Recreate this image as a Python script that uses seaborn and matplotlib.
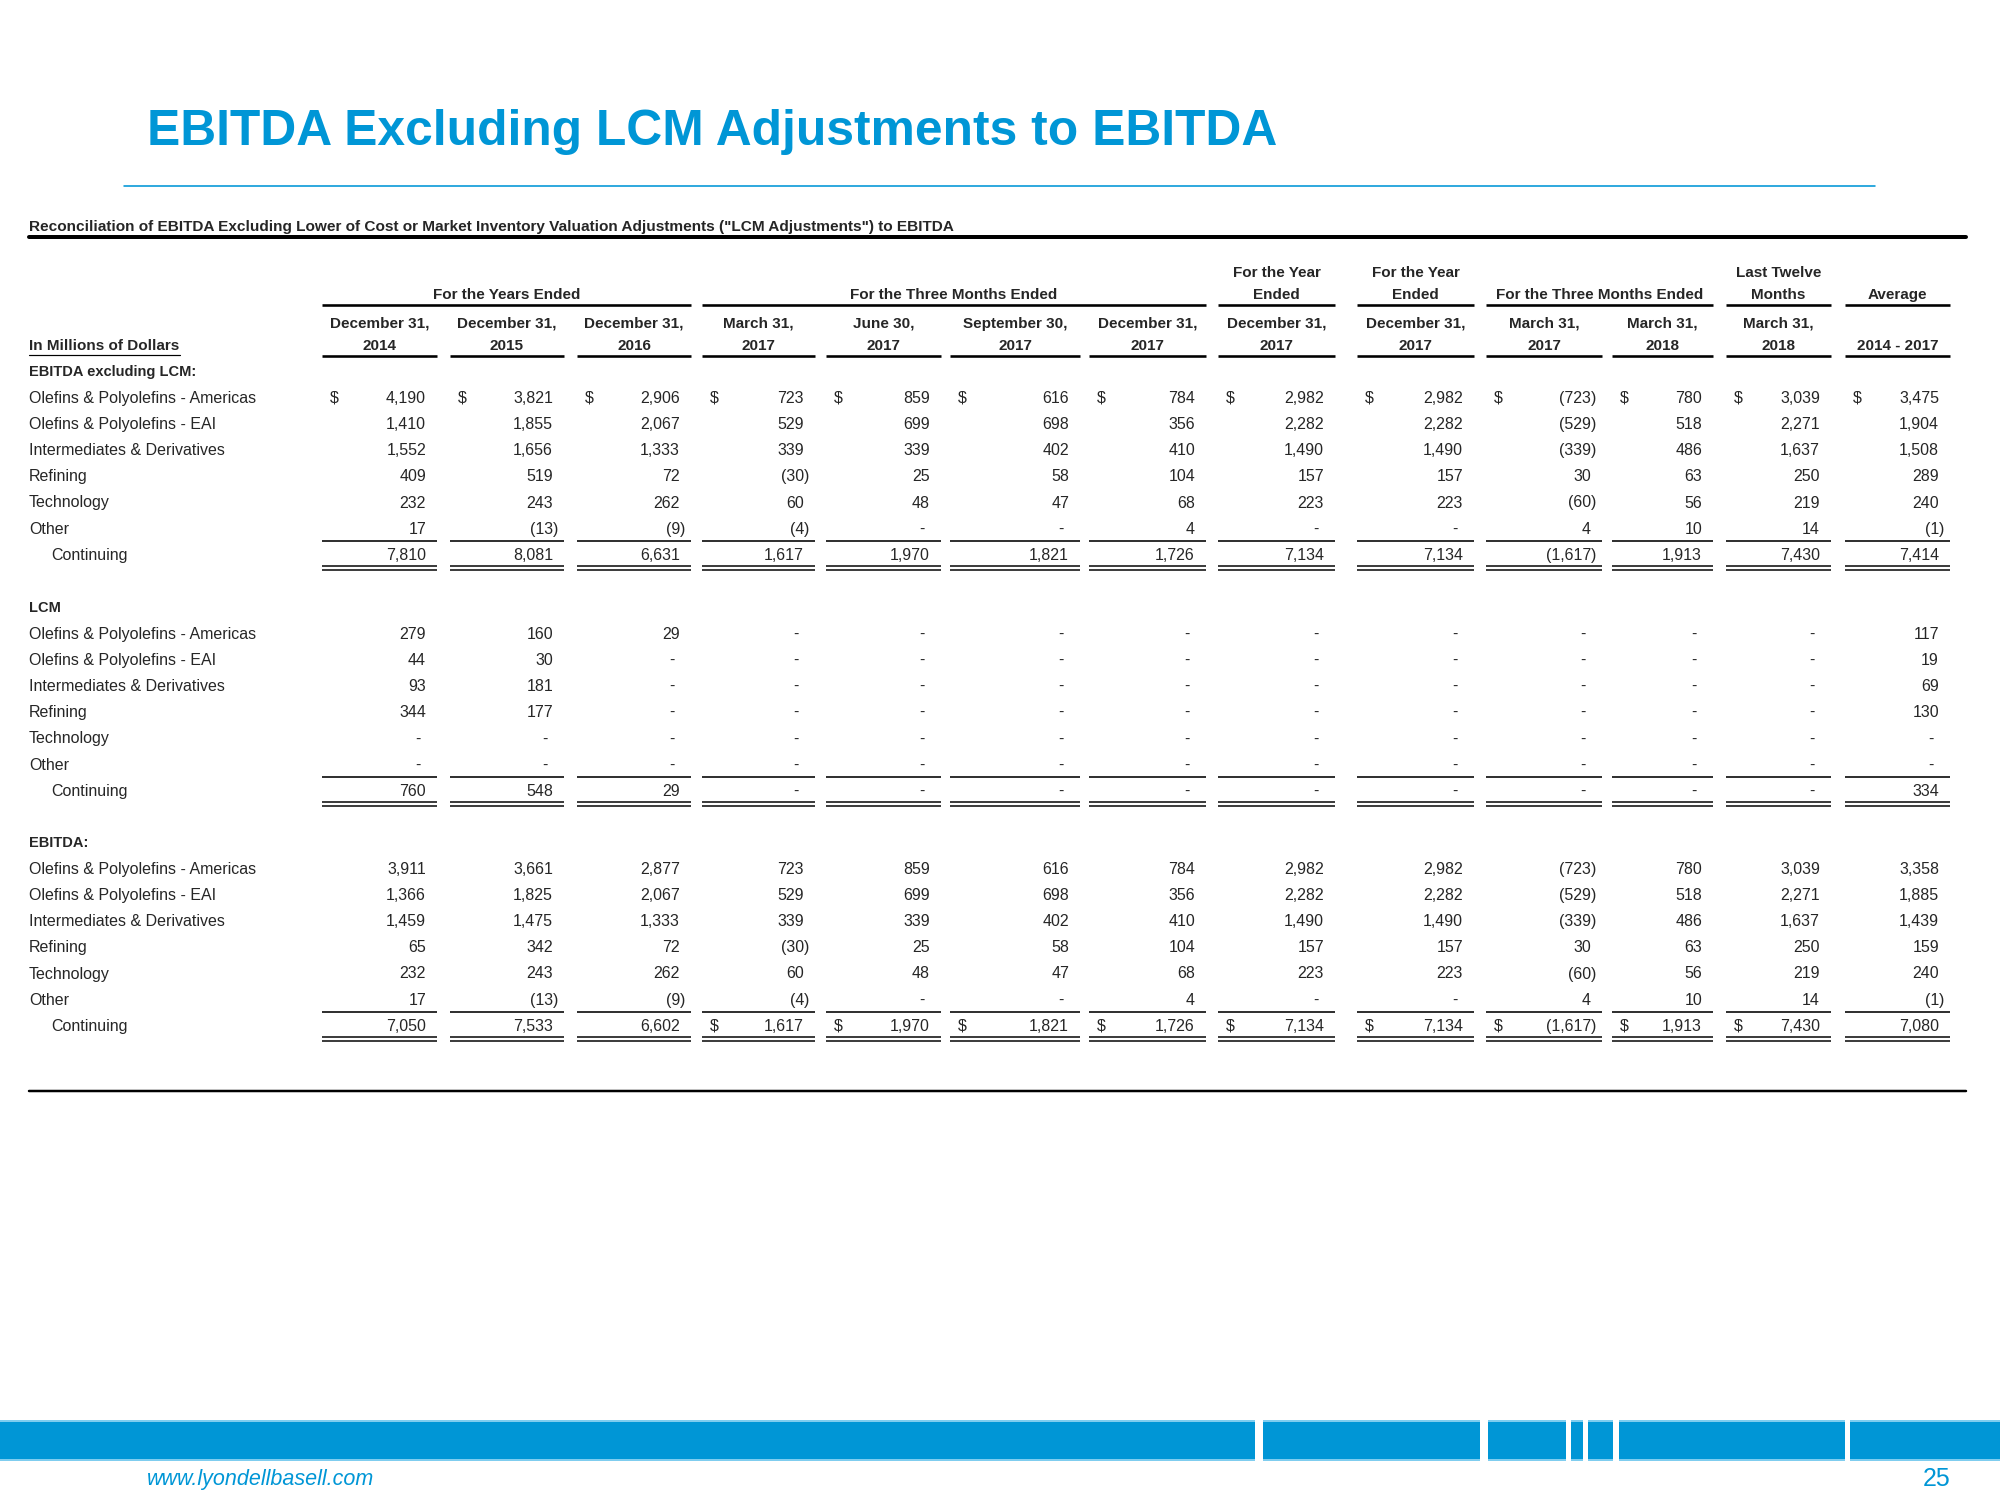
import matplotlib
matplotlib.use("Agg")
import matplotlib.pyplot as plt
import seaborn as sns
from matplotlib.patches import Rectangle

# ---- data -------------------------------------------------------------
title = "EBITDA Excluding LCM Adjustments to EBITDA"
subtitle = ('Reconciliation of EBITDA Excluding Lower of Cost or Market Inventory '
            'Valuation Adjustments ("LCM Adjustments") to EBITDA')

group_labels = ["For the Years Ended", "For the Three Months Ended", "For the Year\nEnded",
                "For the Year\nEnded", "For the Three Months Ended", "Last Twelve\nMonths", "Average"]
group_cols = [(0, 2), (3, 6), (7, 7), (8, 8), (9, 10), (11, 11), (12, 12)]

date_top = ["December 31,", "December 31,", "December 31,", "March 31,", "June 30,",
            "September 30,", "December 31,", "December 31,", "December 31,", "March 31,",
            "March 31,", "March 31,", ""]
date_bottom = ["2014", "2015", "2016", "2017", "2017", "2017", "2017", "2017", "2017",
               "2017", "2018", "2018", "2014 - 2017"]

row_labels = ["Olefins & Polyolefins - Americas", "Olefins & Polyolefins - EAI",
              "Intermediates & Derivatives", "Refining", "Technology", "Other", "Continuing"]
section_titles = ["EBITDA excluding LCM:", "LCM", "EBITDA:"]

N = None
ex_lcm_values = [
    [4190, 3821, 2906, 723, 859, 616, 784, 2982, 2982, -723, 780, 3039, 3475],
    [1410, 1855, 2067, 529, 699, 698, 356, 2282, 2282, -529, 518, 2271, 1904],
    [1552, 1656, 1333, 339, 339, 402, 410, 1490, 1490, -339, 486, 1637, 1508],
    [409, 519, 72, -30, 25, 58, 104, 157, 157, 30, 63, 250, 289],
    [232, 243, 262, 60, 48, 47, 68, 223, 223, -60, 56, 219, 240],
    [17, -13, -9, -4, N, N, 4, N, N, 4, 10, 14, -1],
    [7810, 8081, 6631, 1617, 1970, 1821, 1726, 7134, 7134, -1617, 1913, 7430, 7414],
]
lcm_values = [
    [279, 160, 29, N, N, N, N, N, N, N, N, N, 117],
    [44, 30, N, N, N, N, N, N, N, N, N, N, 19],
    [93, 181, N, N, N, N, N, N, N, N, N, N, 69],
    [344, 177, N, N, N, N, N, N, N, N, N, N, 130],
    [N] * 13,
    [N] * 13,
    [760, 548, 29, N, N, N, N, N, N, N, N, N, 334],
]
ebitda_values = [
    [3911, 3661, 2877, 723, 859, 616, 784, 2982, 2982, -723, 780, 3039, 3358],
    [1366, 1825, 2067, 529, 699, 698, 356, 2282, 2282, -529, 518, 2271, 1885],
    [1459, 1475, 1333, 339, 339, 402, 410, 1490, 1490, -339, 486, 1637, 1439],
    [65, 342, 72, -30, 25, 58, 104, 157, 157, 30, 63, 250, 159],
    [232, 243, 262, 60, 48, 47, 68, 223, 223, -60, 56, 219, 240],
    [17, -13, -9, -4, N, N, 4, N, N, 4, 10, 14, -1],
    [7050, 7533, 6602, 1617, 1970, 1821, 1726, 7134, 7134, -1617, 1913, 7430, 7080],
]

# which cells get a "$" (section, row) -> columns
dollar_cells = {(0, 0): range(13), (2, 6): range(3, 12)}

# ---- layout (pixel positions on the 2000x1500 slide) ------------------
BLUE = "#0096D6"
col_left = [322, 450, 577, 702, 826, 950, 1089, 1218, 1357, 1486, 1612, 1726, 1845]
col_right = [437, 564, 691, 815, 941, 1080, 1206, 1335, 1474, 1602, 1713, 1831, 1950]
section_y = [372, 608, 843]
row_step = 26.2
FS = 11.5

sns.set_theme(style="white")
plt.rcParams["font.family"] = ["Liberation Sans", "DejaVu Sans"]

fig = plt.figure(figsize=(20, 15), dpi=100)
ax = fig.add_axes([0, 0, 1, 1])
ax.set_xlim(0, 2000)
ax.set_ylim(1500, 0)
ax.axis("off")


def px(w):
    # line width in pixels -> points
    return w * 0.72


def seg_line(y, c, lw=1.6):
    ax.plot([col_left[c], col_right[c]], [y, y], color="black", lw=px(lw), solid_capstyle="butt")


# title block
ax.text(147, 132, title, fontsize=35.8, fontweight="bold", color=BLUE, va="center", ha="left")
ax.plot([124, 1875], [186, 186], color=BLUE, lw=px(1.6))
ax.text(29, 227, subtitle, fontsize=11.1, fontweight="bold", va="center", ha="left")
ax.plot([29, 1966], [237, 237], color="black", lw=px(4))

# column headers
for lab, (c0, c1) in zip(group_labels, group_cols):
    xc = (col_left[c0] + col_right[c1]) / 2
    lines = lab.split("\n")
    ys = [295] if len(lines) == 1 else [273, 295]
    for t, y in zip(lines, ys):
        ax.text(xc, y, t, fontsize=FS - 0.5, fontweight="bold", ha="center", va="center")
    ax.plot([col_left[c0], col_right[c1]], [305, 305], color="black", lw=px(2.6), solid_capstyle="butt")

for c in range(13):
    xc = (col_left[c] + col_right[c]) / 2
    if date_top[c]:
        ax.text(xc, 324, date_top[c], fontsize=FS - 0.5, fontweight="bold", ha="center", va="center")
    ax.text(xc, 346, date_bottom[c], fontsize=FS - 0.5, fontweight="bold", ha="center", va="center")
    ax.plot([col_left[c], col_right[c]], [356, 356], color="black", lw=px(2.6), solid_capstyle="butt")

ax.text(29, 346, "In Millions of Dollars", fontsize=FS - 0.5, fontweight="bold", ha="left", va="center")
ax.plot([29, 180], [355, 355], color="black", lw=px(1.2))

# body
for s, (sec_title, values) in enumerate(zip(section_titles, [ex_lcm_values, lcm_values, ebitda_values])):
    y0 = section_y[s]
    ax.text(29, y0, sec_title, fontsize=FS - 1, fontweight="bold", ha="left", va="center")
    for r, (lab, row) in enumerate(zip(row_labels, values)):
        y = y0 + row_step * (r + 1)
        xl = 51 if lab == "Continuing" else 29
        ax.text(xl, y, lab, fontsize=FS, ha="left", va="center")
        for c, v in enumerate(row):
            xr = col_right[c] - 11
            if v is None:
                ax.text(xr - 5, y, "-", fontsize=FS, ha="right", va="center")
            elif v < 0:
                ax.text(xr, y, "({:,}".format(-v), fontsize=FS, ha="right", va="center")
                ax.text(xr, y, ")", fontsize=FS, ha="left", va="center")
            else:
                ax.text(xr, y, "{:,}".format(v), fontsize=FS, ha="right", va="center")
            if c in dollar_cells.get((s, r), []):
                ax.text(col_left[c] + 8, y, "$", fontsize=FS, ha="left", va="center")
    y_other = y0 + row_step * 6
    y_cont = y0 + row_step * 7
    for c in range(13):
        seg_line(y_other + 12, c, 1.6)
        seg_line(y_cont + 11, c, 1.5)
        seg_line(y_cont + 15, c, 1.5)

ax.plot([29, 1966], [1091, 1091], color="black", lw=px(2.5))

# footer band
ax.add_patch(Rectangle((0, 1420), 2000, 41, color=BLUE, lw=0))
ax.add_patch(Rectangle((0, 1420), 2000, 2, color="#7FCDEF", lw=0))
ax.add_patch(Rectangle((0, 1459), 2000, 2, color="#7FCDEF", lw=0))
for g0, g1 in [(1255, 1263), (1480, 1488), (1566, 1571), (1583, 1588), (1613, 1619), (1845, 1850)]:
    ax.add_patch(Rectangle((g0, 1418), g1 - g0, 45, color="white", lw=0))
ax.text(147, 1479, "www.lyondellbasell.com", fontsize=15.5, style="italic", color=BLUE, ha="left", va="center")
ax.text(1950, 1479, "25", fontsize=18, color=BLUE, ha="right", va="center")

fig.savefig("out.png", dpi=100, facecolor="white")
